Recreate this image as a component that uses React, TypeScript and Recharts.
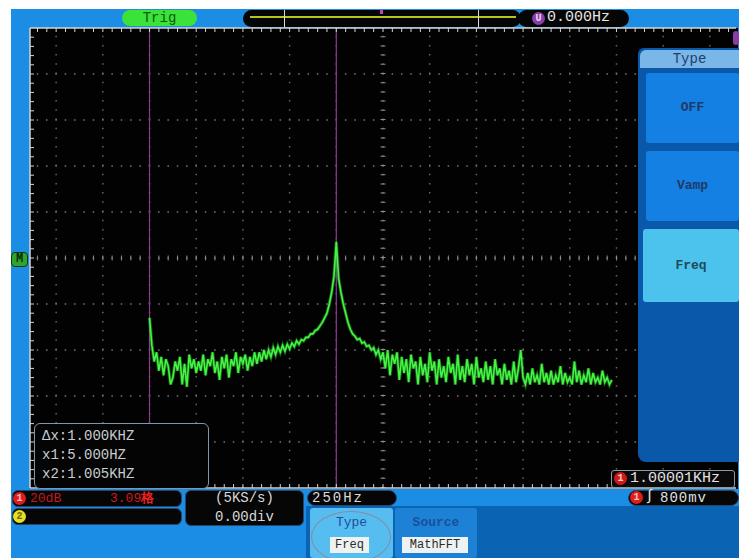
import React from 'react';
import { LineChart, Line, XAxis, YAxis, ReferenceLine } from 'recharts';

// Math FFT of CH1, 250Hz/div horizontally, 20dB/div vertically
const FFT_START_HZ = 5;
const BIN_HZ = 12.5;
const SPECTRUM_DB = [
  -26, -38, -45, -41, -49, -43, -51, -44, -47, -55,
  -52, -45, -49, -43, -55, -46, -56, -42, -48, -44,
  -50, -45, -49, -42, -51, -44, -47, -41, -50, -45,
  -53, -43, -48, -42, -52, -44, -47, -41, -50, -43,
  -46, -42, -49, -43, -47, -41, -46, -41, -45, -40,
  -44, -40, -43, -39, -42, -38.5, -41, -38, -40.5, -37.5,
  -39.5, -37, -38.5, -36, -37.5, -35.5, -36, -34.5, -34.5, -33,
  -33, -31.5, -31, -29.5, -28, -26, -24, -20, -15, -8,
  7, -9, -15, -20, -24, -28, -31, -33, -34, -35.5,
  -35, -37, -36.5, -38.5, -38, -40, -39, -42, -40, -44,
  -41, -48, -40, -51, -42, -46, -41, -53, -43, -50,
  -44, -54, -42, -48, -45, -55, -43, -51, -46, -54,
  -41, -49, -45, -55, -44, -52, -47, -54, -43, -50,
  -46, -55, -42, -53, -47, -54, -44, -51, -46, -55,
  -43, -52, -48, -54, -45, -53, -47, -55, -44, -51,
  -48, -55, -46, -53, -49, -55, -45, -54, -48, -40,
  -52, -55, -50, -55, -48, -54, -51, -55, -46, -54,
  -50, -55, -49, -55, -51, -54, -47, -55, -50, -54,
  -52, -55, -45, -54, -49, -55, -51, -54, -48, -55,
  -50, -54, -52, -55, -49, -54, -52, -55, -53,
];

const CENTER_HZ = 1255;
const X_DOMAIN = [-635, 3145];
const Y_DOMAIN = [-100, 100];
const GRID_X = [-495, -245, 5, 255, 505, 755, 1005, 1255, 1505, 1755, 2005, 2255, 2505, 2755, 3005];
const GRID_Y = [-80, -60, -40, -20, 0, 20, 40, 60, 80];
const CURSORS_HZ = [5, 1005];
const CURSOR_TEXT = ['Δx:1.000KHZ', 'x1:5.000HZ', 'x2:1.005KHZ'];
const MENU_ITEMS = ['OFF', 'Vamp', 'Freq'];

const MINOR_X = Array.from({ length: 75 }, (_, i) => -595 + i * 50);
const MINOR_Y = Array.from({ length: 49 }, (_, i) => -96 + i * 4);

const data = SPECTRUM_DB.map((db, i) => ({ f: FFT_START_HZ + i * BIN_HZ, db }));

const MONO = "'Liberation Mono', 'DejaVu Sans Mono', monospace";
const FRAME = '#1c8de4';
const BORDER = '#d4d4d4';

function Abs({ s, children }: { s: React.CSSProperties; children?: React.ReactNode }) {
  return <div style={{ position: 'absolute', boxSizing: 'border-box', ...s }}>{children}</div>;
}

function Badge({ x, y, bg, color, label }: { x: number; y: number; bg: string; color: string; label: string }) {
  return (
    <Abs s={{ left: x, top: y, width: 13, height: 13, borderRadius: 7, background: bg, color, fontSize: 10, lineHeight: '13px', textAlign: 'center', fontWeight: 700 }}>
      {label}
    </Abs>
  );
}

export default function App() {
  const blackBox: React.CSSProperties = { background: '#060606', borderRadius: 6, border: '1px solid #24466e' };
  return (
    <div style={{ position: 'fixed', left: 0, top: 0, width: 739, height: 558, background: '#fff', overflow: 'hidden', fontFamily: MONO }}>
      <Abs s={{ left: 11, top: 9, width: 728, height: 549, background: FRAME }} />
      <Abs s={{ left: 306, top: 506, width: 433, height: 52, background: '#0b63b4' }} />

      {/* top bar */}
      <Abs s={{ left: 122, top: 10, width: 75, height: 16, borderRadius: 8, background: '#3ae23a', color: '#0d5a0d', fontSize: 14, lineHeight: '16px', textAlign: 'center' }}>Trig</Abs>
      <Abs s={{ left: 243, top: 10, width: 278, height: 17, borderRadius: 9, background: '#050505' }} />
      <Abs s={{ left: 250, top: 16, width: 266, height: 2, background: '#b6c41c' }} />
      <Abs s={{ left: 284, top: 10, width: 1, height: 17, background: '#dcdcdc' }} />
      <Abs s={{ left: 478, top: 10, width: 1, height: 17, background: '#dcdcdc' }} />
      <Abs s={{ left: 380, top: 10, width: 3, height: 4, background: '#c040c0' }} />
      <Abs s={{ left: 518, top: 10, width: 111, height: 17, borderRadius: 9, background: '#050505' }} />
      <Badge x={532} y={12} bg="#8a3ca8" color="#e8d8f0" label="U" />
      <Abs s={{ left: 547, top: 9, color: '#e6e6e6', fontSize: 15, lineHeight: '18px' }}>0.000Hz</Abs>

      {/* screen */}
      <Abs s={{ left: 30, top: 28, width: 708, height: 461, background: '#020202' }} />
      <div style={{ position: 'absolute', left: 28, top: 26 }}>
        <LineChart width={710} height={464} data={data} margin={{ top: 2, right: 2, bottom: 2, left: 2 }}>
          <XAxis xAxisId="top" orientation="top" type="number" dataKey="f" domain={X_DOMAIN} allowDataOverflow ticks={MINOR_X} interval={0}
            mirror tickSize={4} tickFormatter={() => ''} axisLine={{ stroke: BORDER, strokeWidth: 1.5 }} tickLine={{ stroke: BORDER }} />
          <XAxis xAxisId="bot" orientation="bottom" type="number" dataKey="f" domain={X_DOMAIN} allowDataOverflow ticks={MINOR_X} interval={0}
            mirror tickSize={4} tickFormatter={() => ''} axisLine={{ stroke: BORDER, strokeWidth: 1.5 }} tickLine={{ stroke: BORDER }} />
          <YAxis yAxisId="l" orientation="left" type="number" domain={Y_DOMAIN} allowDataOverflow ticks={MINOR_Y} interval={0}
            mirror tickSize={4} tickFormatter={() => ''} axisLine={{ stroke: BORDER, strokeWidth: 1.5 }} tickLine={{ stroke: BORDER }} />

          {GRID_X.map((x) => (
            <ReferenceLine key={'gx' + x} xAxisId="bot" yAxisId="l" x={x} stroke="#666" strokeWidth={1.5} strokeDasharray="1.5 7.7" />
          ))}
          {GRID_Y.map((y) => (
            <ReferenceLine key={'gy' + y} xAxisId="bot" yAxisId="l" y={y} stroke="#777" strokeWidth={1.5} strokeDasharray="1.5 7.84" strokeDashoffset={2.67} />
          ))}
          <ReferenceLine xAxisId="bot" yAxisId="l" x={CENTER_HZ} stroke="#8c8c8c" strokeWidth={5} strokeDasharray="1 8.2" />
          <ReferenceLine xAxisId="bot" yAxisId="l" y={0} stroke="#8c8c8c" strokeWidth={5} strokeDasharray="1 8.34" strokeDashoffset={2.42} />
          {CURSORS_HZ.map((x) => (
            <ReferenceLine key={'c' + x} xAxisId="bot" yAxisId="l" x={x} stroke="#8b3a8f" strokeWidth={1.2} />
          ))}

          <Line xAxisId="bot" yAxisId="l" type="linear" dataKey="db" stroke="#2fd02f" strokeOpacity={0.45} strokeWidth={3.4} dot={false} isAnimationActive={false} />
          <Line xAxisId="bot" yAxisId="l" type="linear" dataKey="db" stroke="#44f544" strokeWidth={1.6} dot={false} isAnimationActive={false} />
        </LineChart>
      </div>
      <Abs s={{ left: 733, top: 31, width: 6, height: 14, borderRadius: 3, background: '#8a3ca8' }} />

      {/* M marker */}
      <Abs s={{ left: 11, top: 252, width: 17, height: 15, borderRadius: 4, background: '#2fa52f', border: '1px solid #0c3a0c', color: '#0a2a0a', fontSize: 12, lineHeight: '13px', textAlign: 'center', fontWeight: 700 }}>M</Abs>

      {/* cursor readout */}
      <Abs s={{ left: 34, top: 423, width: 175, height: 66, ...blackBox, border: '1.5px solid #7e98a8', background: '#040404' }} />
      {CURSOR_TEXT.map((t, i) => (
        <Abs key={t} s={{ left: 42, top: 427 + i * 19, color: '#c8ccd0', fontSize: 14, lineHeight: '18px' }}>{t}</Abs>
      ))}

      {/* right menu */}
      <Abs s={{ left: 638, top: 48, width: 101, height: 414, background: '#0a58aa', borderRadius: '6px 0 0 8px' }} />
      <Abs s={{ left: 640, top: 50, width: 99, height: 18, background: '#7ab6e8', borderRadius: '6px 0 0 0', color: '#223e6a', fontSize: 14, lineHeight: '18px', textAlign: 'center' }}>Type</Abs>
      {MENU_ITEMS.map((m, i) => {
        const active = m === 'Freq';
        const h = active ? 73 : 70;
        return (
          <Abs key={m} s={{ left: active ? 643 : 646, top: 73 + i * 78, width: active ? 96 : 93, height: h, borderRadius: 3,
            background: active ? '#4cc3ec' : '#1580e4', color: active ? '#1d4a5c' : '#1e3966', fontSize: 13, lineHeight: h + 'px', textAlign: 'center', fontWeight: 700 }}>
            {m}
          </Abs>
        );
      })}

      {/* measured frequency */}
      <Abs s={{ left: 611, top: 470, width: 124, height: 18, background: '#0a0a0a', border: '1.5px solid #8a9aa8', borderRadius: 3 }} />
      <Badge x={614} y={472} bg="#d01818" color="#f4d0d0" label="1" />
      <Abs s={{ left: 630, top: 470, color: '#e2e2e2', fontSize: 15, lineHeight: '18px' }}>1.00001KHz</Abs>

      {/* status rows */}
      <Abs s={{ left: 12, top: 490, width: 170, height: 17, ...blackBox }} />
      <Badge x={13} y={492} bg="#e01c1c" color="#f6c0c0" label="1" />
      <Abs s={{ left: 30, top: 490, color: '#c81818', fontSize: 13, lineHeight: '17px' }}>20dB</Abs>
      <Abs s={{ left: 110, top: 490, color: '#d01a1a', fontSize: 13, lineHeight: '17px' }}>3.09<span style={{ color: '#f02020', fontWeight: 700 }}>格</span></Abs>
      <Abs s={{ left: 12, top: 508, width: 170, height: 17, ...blackBox }} />
      <Badge x={13} y={510} bg="#e6e020" color="#6a6a10" label="2" />

      <Abs s={{ left: 185, top: 490, width: 119, height: 36, ...blackBox }} />
      <Abs s={{ left: 185, top: 489, width: 119, color: '#d8d8d8', fontSize: 14, lineHeight: '18px', textAlign: 'center' }}>(5KS/s)</Abs>
      <Abs s={{ left: 185, top: 508, width: 119, color: '#d8d8d8', fontSize: 14, lineHeight: '18px', textAlign: 'center' }}>0.00div</Abs>

      <Abs s={{ left: 307, top: 490, width: 90, height: 16, ...blackBox, borderRadius: 8 }} />
      <Abs s={{ left: 312, top: 489, color: '#dadada', fontSize: 14, lineHeight: '18px', letterSpacing: 2 }}>250Hz</Abs>

      <Abs s={{ left: 628, top: 490, width: 111, height: 16, ...blackBox, borderRadius: 8 }} />
      <Badge x={630} y={491} bg="#e01c1c" color="#f6c0c0" label="1" />
      <Abs s={{ left: 645, top: 488, color: '#e6e6e6', fontSize: 15, lineHeight: '18px' }}>∫</Abs>
      <Abs s={{ left: 660, top: 489, color: '#e0e0e0', fontSize: 14, lineHeight: '18px', letterSpacing: 1 }}>800mv</Abs>

      {/* bottom soft keys */}
      <Abs s={{ left: 310, top: 508, width: 83, height: 50, background: '#56bdf0', borderRadius: 3 }} />
      <Abs s={{ left: 311, top: 511, width: 80, height: 52, borderRadius: '50%', border: '1.5px solid #8a8aa0' }} />
      <Abs s={{ left: 310, top: 515, width: 83, color: '#214d9c', fontSize: 13, lineHeight: '16px', textAlign: 'center' }}>Type</Abs>
      <Abs s={{ left: 330, top: 537, width: 39, height: 16, background: '#eef2f0', color: '#2a2a2a', fontSize: 12, lineHeight: '16px', textAlign: 'center' }}>Freq</Abs>

      <Abs s={{ left: 395, top: 508, width: 82, height: 50, background: '#1d82d6', borderRadius: 3 }} />
      <Abs s={{ left: 395, top: 515, width: 82, color: '#1a4f9c', fontSize: 13, lineHeight: '16px', textAlign: 'center', fontWeight: 700 }}>Source</Abs>
      <Abs s={{ left: 402, top: 537, width: 66, height: 16, background: '#eef2f2', color: '#2a2a2a', fontSize: 12, lineHeight: '16px', textAlign: 'center' }}>MathFFT</Abs>
    </div>
  );
}
